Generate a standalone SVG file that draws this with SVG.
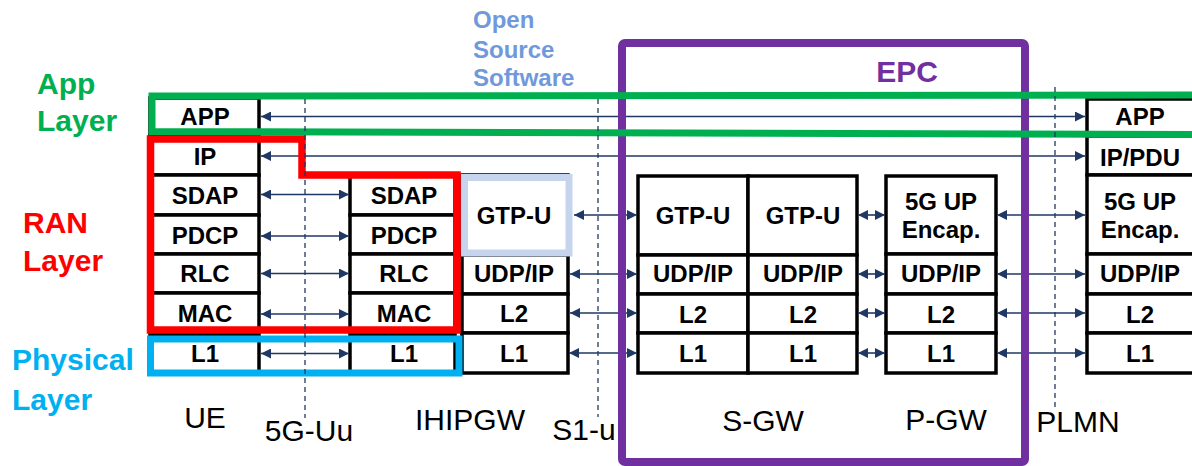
<svg xmlns="http://www.w3.org/2000/svg" width="1192" height="466" viewBox="0 0 1192 466">
<style>
.box{fill:#fff;stroke:#000;stroke-width:3.5}
.bl{font-family:"Liberation Sans",Arial,sans-serif;font-weight:bold;font-size:24px;fill:#000;text-anchor:middle}
.nm{font-family:"Liberation Sans",Arial,sans-serif;font-size:30px;fill:#000;text-anchor:middle}
.lay{font-family:"Liberation Sans",Arial,sans-serif;font-weight:bold;font-size:30px}
.con{stroke:#1f3864;stroke-width:1.6;fill:none;marker-start:url(#ah);marker-end:url(#ah)}
.dash{stroke:#1f3864;stroke-width:1.3;stroke-dasharray:5 4;fill:none}
</style>
<defs>
<marker id="ah" viewBox="0 0 10 10" refX="10" refY="5" markerWidth="10" markerHeight="10" markerUnits="userSpaceOnUse" orient="auto-start-reverse">
<path d="M0,0 L10,5 L0,10 Z" fill="#1f3864"/>
</marker>
</defs>
<rect width="1192" height="466" fill="#fff"/>

<g id="ue">
<rect class="box" x="150" y="98" width="109" height="38"/>
<rect class="box" x="150" y="136" width="109" height="39"/>
<rect class="box" x="150" y="175" width="109" height="40"/>
<rect class="box" x="150" y="215" width="109" height="39"/>
<rect class="box" x="150" y="254" width="109" height="39"/>
<rect class="box" x="150" y="293" width="109" height="39"/>
<rect class="box" x="150" y="335" width="109" height="38"/>
<text class="bl" x="205" y="125">APP</text>
<text class="bl" x="205" y="164.5">IP</text>
<text class="bl" x="205" y="203.5">SDAP</text>
<text class="bl" x="205" y="244">PDCP</text>
<text class="bl" x="205" y="282">RLC</text>
<text class="bl" x="205" y="322">MAC</text>
<text class="bl" x="205" y="362">L1</text>
</g>

<g id="gnb">
<rect class="box" x="350" y="175" width="105" height="40"/>
<rect class="box" x="350" y="215" width="105" height="39"/>
<rect class="box" x="350" y="254" width="105" height="39"/>
<rect class="box" x="350" y="293" width="105" height="39"/>
<rect class="box" x="350" y="335" width="105" height="38"/>
<text class="bl" x="404" y="203.5">SDAP</text>
<text class="bl" x="404" y="244">PDCP</text>
<text class="bl" x="404" y="282">RLC</text>
<text class="bl" x="404" y="322">MAC</text>
<text class="bl" x="404" y="362">L1</text>
</g>

<g id="ihipgw">
<rect class="box" x="462" y="175" width="106" height="80"/>
<rect class="box" x="462" y="255" width="106" height="39"/>
<rect class="box" x="462" y="294" width="106" height="39"/>
<rect class="box" x="462" y="333" width="106" height="40"/>
<text class="bl" x="514" y="224">GTP-U</text>
<text class="bl" x="514" y="282">UDP/IP</text>
<text class="bl" x="514" y="322">L2</text>
<text class="bl" x="514" y="362">L1</text>
</g>

<g id="sgw">
<rect class="box" x="638" y="176" width="110" height="79"/>
<rect class="box" x="638" y="255" width="110" height="39"/>
<rect class="box" x="638" y="294" width="110" height="39"/>
<rect class="box" x="638" y="333" width="110" height="40"/>
<rect class="box" x="748" y="176" width="109" height="79"/>
<rect class="box" x="748" y="255" width="109" height="39"/>
<rect class="box" x="748" y="294" width="109" height="39"/>
<rect class="box" x="748" y="333" width="109" height="40"/>
<text class="bl" x="693" y="224">GTP-U</text>
<text class="bl" x="693" y="282">UDP/IP</text>
<text class="bl" x="693" y="323">L2</text>
<text class="bl" x="693" y="362">L1</text>
<text class="bl" x="803" y="224">GTP-U</text>
<text class="bl" x="803" y="282">UDP/IP</text>
<text class="bl" x="803" y="323">L2</text>
<text class="bl" x="803" y="362">L1</text>
</g>

<g id="pgw">
<rect class="box" x="886" y="176" width="110" height="78"/>
<rect class="box" x="886" y="254" width="110" height="40"/>
<rect class="box" x="886" y="294" width="110" height="39"/>
<rect class="box" x="886" y="333" width="110" height="40"/>
<text class="bl" x="941" y="210">5G UP</text>
<text class="bl" x="941" y="238">Encap.</text>
<text class="bl" x="941" y="282">UDP/IP</text>
<text class="bl" x="941" y="323">L2</text>
<text class="bl" x="941" y="362">L1</text>
</g>

<g id="dn">
<rect class="box" x="1087" y="99" width="120" height="37"/>
<rect class="box" x="1087" y="136" width="120" height="39"/>
<rect class="box" x="1087" y="175" width="120" height="79"/>
<rect class="box" x="1087" y="254" width="120" height="40"/>
<rect class="box" x="1087" y="294" width="120" height="39"/>
<rect class="box" x="1087" y="333" width="120" height="40"/>
<text class="bl" x="1140" y="125">APP</text>
<text class="bl" x="1140" y="165.5">IP/PDU</text>
<text class="bl" x="1140" y="210">5G UP</text>
<text class="bl" x="1140" y="238">Encap.</text>
<text class="bl" x="1140" y="282">UDP/IP</text>
<text class="bl" x="1140" y="323">L2</text>
<text class="bl" x="1140" y="362">L1</text>
</g>

<g id="connectors">
<line class="con" x1="261" y1="116.5" x2="1085" y2="116.5"/>
<line class="con" x1="261" y1="156" x2="1085" y2="156"/>
<line class="con" x1="261" y1="194.5" x2="349" y2="194.5"/>
<line class="con" x1="261" y1="236" x2="349" y2="236"/>
<line class="con" x1="261" y1="273.5" x2="349" y2="273.5"/>
<line class="con" x1="261" y1="314" x2="349" y2="314"/>
<line class="con" x1="261" y1="353.5" x2="349" y2="353.5"/>
<line class="con" x1="574" y1="215" x2="637" y2="215"/>
<line class="con" x1="570" y1="274" x2="637" y2="274"/>
<line class="con" x1="570" y1="313" x2="637" y2="313"/>
<line class="con" x1="569" y1="353" x2="637" y2="353"/>
<line class="con" x1="858" y1="215" x2="885" y2="215"/>
<line class="con" x1="858" y1="274" x2="885" y2="274"/>
<line class="con" x1="858" y1="313" x2="885" y2="313"/>
<line class="con" x1="858" y1="353" x2="885" y2="353"/>
<line class="con" x1="997" y1="215" x2="1085" y2="215"/>
<line class="con" x1="997" y1="274" x2="1085" y2="274"/>
<line class="con" x1="997" y1="313" x2="1085" y2="313"/>
<line class="con" x1="997" y1="353" x2="1085" y2="353"/>
</g>

<g id="epc">
<rect x="622" y="43" width="403" height="419" rx="3" fill="none" stroke="#7030a0" stroke-width="8"/>
<text class="lay" x="907" y="82" fill="#7030a0" text-anchor="middle">EPC</text>
</g>

<g id="open-source">
<rect x="464.5" y="177.5" width="104.5" height="75.5" fill="none" stroke="#c6d5ed" stroke-width="7"/>
<text font-family="'Liberation Sans',Arial,sans-serif" font-weight="bold" font-size="24" fill="#7099dc">
<tspan x="473" y="28">Open</tspan><tspan x="473" y="58">Source</tspan><tspan x="473" y="86">Software</tspan>
</text>
</g>

<g id="ran-layer">
<path d="M150.5,139 H302 V175 H457 V330 H150.5 Z" fill="none" stroke="#ff0000" stroke-width="7.5"/>
<text class="lay" fill="#ff0000"><tspan x="23" y="233">RAN</tspan><tspan x="23" y="271">Layer</tspan></text>
</g>

<g id="physical-layer">
<rect x="150.5" y="339" width="308.5" height="34" fill="none" stroke="#00b0f0" stroke-width="7"/>
<text class="lay" fill="#00b0f0"><tspan x="12" y="370">Physical</tspan><tspan x="12" y="410">Layer</tspan></text>
</g>

<g id="app-layer">
<path d="M152,96 L1196,95 L1196,134.5 L152,131.5 Z" fill="none" stroke="#00b050" stroke-width="7"/>
<text class="lay" fill="#00b050"><tspan x="37" y="94">App</tspan><tspan x="37" y="131">Layer</tspan></text>
</g>

<g id="interfaces">
<line class="dash" x1="305" y1="99" x2="305" y2="418"/>
<line class="dash" x1="598" y1="99" x2="598" y2="417"/>
<line class="dash" x1="1055" y1="87" x2="1055" y2="408"/>
</g>

<g id="labels">
<text class="nm" x="205" y="428">UE</text>
<text class="nm" x="309" y="441">5G-Uu</text>
<text class="nm" x="470" y="430">IHIPGW</text>
<text class="nm" x="584" y="440">S1-u</text>
<text class="nm" x="763" y="431">S-GW</text>
<text class="nm" x="946" y="430">P-GW</text>
<text class="nm" x="1078" y="432">PLMN</text>
</g>
</svg>
